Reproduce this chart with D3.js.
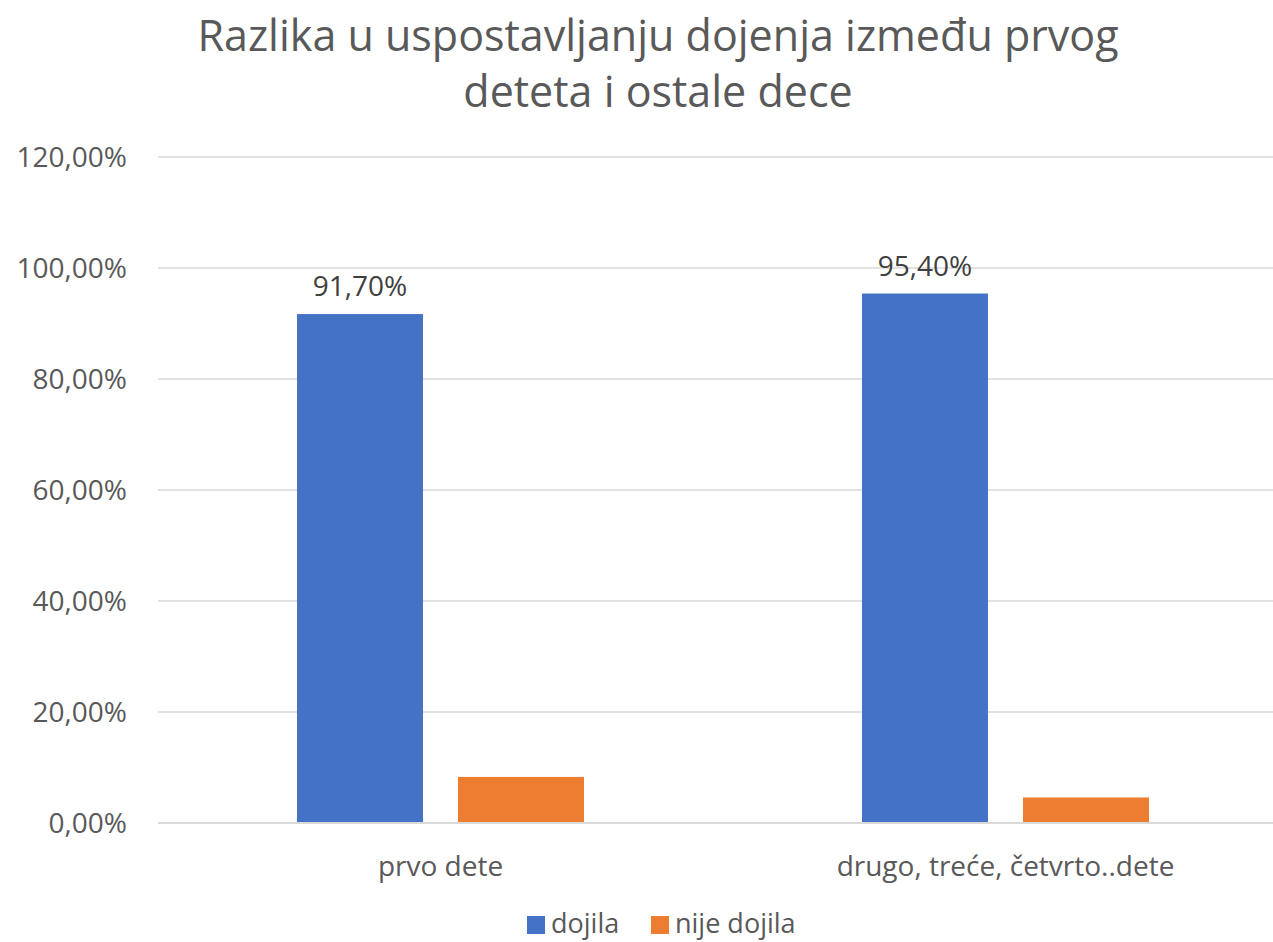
<!DOCTYPE html>
<html>
<head>
<meta charset="utf-8">
<script src="https://cdn.jsdelivr.net/npm/d3@7"></script>
<style>
	body { margin: 0; background: #fff; overflow: hidden; }
	text { font-family: "Open Sans", sans-serif; }
</style>
</head>
<body>
<svg id="chart" width="1273" height="942"></svg>
<script>
var titleLines = ["Razlika u uspostavljanju dojenja između prvog", "deteta i ostale dece"];
var categories = ["prvo dete", "drugo, treće, četvrto..dete"];
var seriesNames = ["dojila", "nije dojila"];
var dojila = [91.7, 95.4];
var nijeDojila = [8.3, 4.6];
var yTicks = [0, 20, 40, 60, 80, 100, 120];
var colors = ["#4472c4", "#ed7d31"];

var svg = d3.select("#chart");

var fmt = function(v) {
	return v.toFixed(2).replace(".", ",") + "%";
};

var y = d3.scaleLinear().domain([0, 120]).range([823, 157]);
var x0 = d3.scaleBand().domain(categories).range([158, 1288]).padding(0);
var x1 = d3.scaleBand().domain(seriesNames).range([139, 426]).paddingInner(35 / 161).paddingOuter(0);

/* gridlines */
svg.append("g")
	.selectAll("line")
	.data(yTicks)
	.enter()
	.append("line")
	.attr("x1", 158)
	.attr("x2", 1288)
	.attr("y1", function(d) { return y(d); })
	.attr("y2", function(d) { return y(d); })
	.attr("stroke", "#d9d9d9")
	.attr("stroke-width", 1.5);

/* y axis labels */
var yAxis = d3.axisLeft(y).tickValues(yTicks).tickFormat(fmt).tickSize(0).tickPadding(0);
var ya = svg.append("g").attr("transform", "translate(127,0)").call(yAxis);
ya.select(".domain").remove();
ya.selectAll("text")
	.attr("fill", "#595959")
	.attr("dy", "0.35em")
	.style("font-size", "28px")
	.style("font-family", "'Open Sans', sans-serif");

/* bars */
var table = categories.map(function(c, i) {
	return { cat: c, values: [{ s: seriesNames[0], v: dojila[i] }, { s: seriesNames[1], v: nijeDojila[i] }] };
});

var groups = svg.append("g")
	.selectAll("g")
	.data(table)
	.enter()
	.append("g")
	.attr("transform", function(d) { return "translate(" + x0(d.cat) + ",0)"; });

groups.selectAll("rect")
	.data(function(d) { return d.values; })
	.enter()
	.append("rect")
	.attr("x", function(d) { return x1(d.s); })
	.attr("width", x1.bandwidth())
	.attr("y", function(d) { return y(d.v); })
	.attr("height", function(d) { return y(0) - y(d.v); })
	.attr("fill", function(d, i) { return colors[i]; });

/* data labels, only on the first series */
groups.append("text")
	.attr("x", function(d) { return x1(seriesNames[0]) + x1.bandwidth() / 2; })
	.attr("y", function(d) { return y(d.values[0].v) - 18; })
	.attr("text-anchor", "middle")
	.attr("fill", "#404040")
	.style("font-size", "28px")
	.text(function(d) { return fmt(d.values[0].v); });

/* baseline */
svg.append("line")
	.attr("x1", 158).attr("x2", 1288)
	.attr("y1", y(0)).attr("y2", y(0))
	.attr("stroke", "#d9d9d9")
	.attr("stroke-width", 2);

/* category labels */
var xAxis = d3.axisBottom(x0).tickSize(0).tickPadding(0);
var xa = svg.append("g").attr("transform", "translate(0,856)").call(xAxis);
xa.select(".domain").remove();
xa.selectAll("text")
	.attr("fill", "#595959")
	.style("font-size", "28px")
	.style("font-family", "'Open Sans', sans-serif");

/* title */
svg.append("text")
	.attr("text-anchor", "middle")
	.attr("fill", "#595959")
	.style("font-size", "43px")
	.selectAll("tspan")
	.data(titleLines)
	.enter()
	.append("tspan")
	.attr("x", 658)
	.attr("y", function(d, i) { return 51 + i * 56; })
	.text(function(d) { return d; });

/* legend */
var legendX = [527, 651];
var legend = svg.append("g")
	.selectAll("g")
	.data(seriesNames)
	.enter()
	.append("g")
	.attr("transform", function(d, i) { return "translate(" + legendX[i] + ",916)"; });

legend.append("rect")
	.attr("width", 18)
	.attr("height", 18)
	.attr("fill", function(d, i) { return colors[i]; });

legend.append("text")
	.attr("x", 24)
	.attr("y", 17)
	.attr("fill", "#595959")
	.style("font-size", "27px")
	.text(function(d) { return d; });
</script>
</body>
</html>
